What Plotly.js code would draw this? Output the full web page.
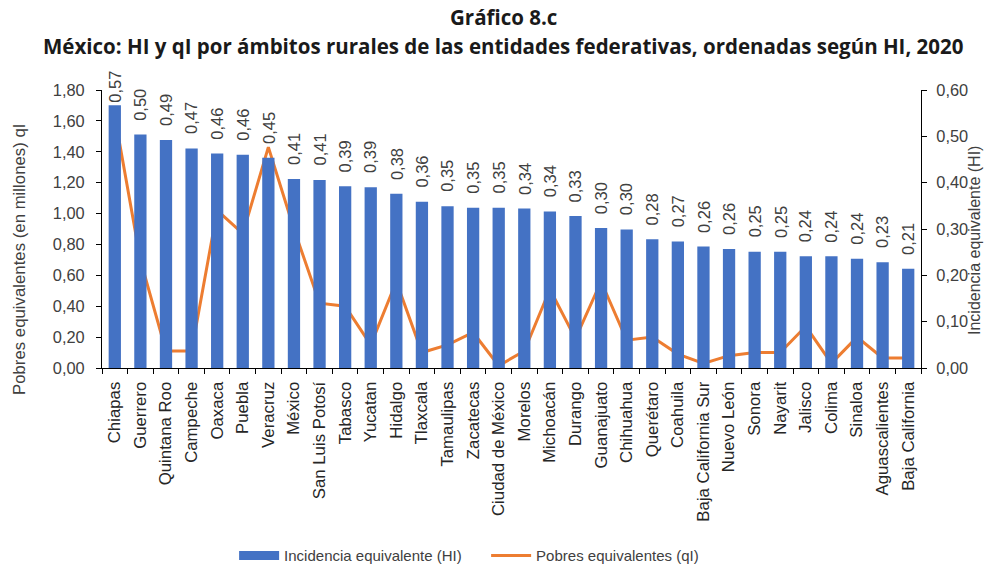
<!DOCTYPE html>
<html><head><meta charset="utf-8">
<script src="https://cdn.plot.ly/plotly-3.0.1.min.js"></script>
<style>html,body{margin:0;padding:0;background:#fff}#chart{width:984px;height:573px}</style>
</head><body><div id="chart"></div>
<script>
const categories = ["Chiapas","Guerrero","Quintana Roo","Campeche","Oaxaca","Puebla","Veracruz","México","San Luis Potosí","Tabasco","Yucatan","Hidalgo","Tlaxcala","Tamaulipas","Zacatecas","Ciudad de México","Morelos","Michoacán","Durango","Guanajuato","Chihuahua","Querétaro","Coahuila","Baja California Sur","Nuevo León","Sonora","Nayarit","Jalisco","Colima","Sinaloa","Aguascalientes","Baja California"];
const hiValues = [0.567,0.504,0.492,0.474,0.463,0.460,0.454,0.408,0.406,0.392,0.390,0.376,0.359,0.349,0.346,0.346,0.344,0.338,0.328,0.302,0.299,0.278,0.273,0.262,0.257,0.251,0.251,0.241,0.241,0.236,0.228,0.214];
const qiValues = [1.63,0.70,0.11,0.11,1.02,0.87,1.43,0.90,0.42,0.40,0.15,0.56,0.10,0.15,0.23,0.015,0.11,0.51,0.19,0.56,0.18,0.20,0.09,0.03,0.08,0.10,0.10,0.27,0.03,0.20,0.065,0.065];
const hiLabels = hiValues.map(v => v.toFixed(2).replace('.', ','));
const titleLines = ["Gráfico 8.c", "México: HI y qI por ámbitos rurales de las entidades federativas, ordenadas según HI, 2020"];
const leftTitle = "Pobres equivalentes (en millones) qI";
const rightTitle = "Incidencia equivalente (HI)";
const hiName = "Incidencia equivalente (HI)";
const qiName = "Pobres equivalentes (qI)";

const M = {l: 102, r: 63, t: 90, b: 205, autoexpand: false};
const W = 984, H = 573;
const plotH = H - M.t - M.b, plotW = W - M.l - M.r;
const y2Max = 0.6;
const blue = '#4472C4', orange = '#ED7D31';

const txt = '#404040';
const bars = {
  type: 'bar', x: categories, y: hiValues, yaxis: 'y2',
  name: hiName, showlegend: false,
  marker: {color: blue}
};
// legend entry drawn as a wide rectangle swatch, like the original
const barLegend = {
  type: 'scatter', mode: 'lines', x: [null], y: [null], yaxis: 'y2',
  name: hiName, line: {color: blue, width: 9}
};
const line = {
  type: 'scatter', mode: 'lines', x: categories, y: qiValues, yaxis: 'y',
  name: qiName,
  line: {color: orange, width: 3}
};
const barLabels = categories.map((c, i) => {
  const topPx = M.t + plotH * (1 - hiValues[i] / y2Max);
  const shift = Math.min(13, topPx - 104);
  return {text: hiLabels[i], x: c, y: hiValues[i], xref: 'x', yref: 'y2',
    xanchor: 'center', yanchor: 'bottom', textangle: -90, showarrow: false,
    yshift: shift, borderpad: 0, font: {size: 16.5, color: txt}};
});
const titleFont = {family: 'Open Sans', size: 20.5, color: '#1a1a1a', weight: 'bold'};
const layout = {
  width: W, height: H,
  margin: M,
  paper_bgcolor: '#fff', plot_bgcolor: '#fff',
  separators: ',.',
  font: {family: 'Liberation Sans, Arial', size: 16, color: txt},
  bargap: 0.52,
  showlegend: true,
  legend: {orientation: 'h', x: 0.469, xanchor: 'center', y: -0.675, yanchor: 'middle',
    font: {size: 15, color: txt}, traceorder: 'normal', itemwidth: 40, entrywidth: 197},
  annotations: [
    {text: titleLines[0], xref: 'paper', yref: 'paper', x: 0.49, y: 1 + (M.t - 17) / plotH, xanchor: 'center', yanchor: 'middle', showarrow: false, font: titleFont},
    {text: titleLines[1], xref: 'paper', yref: 'paper', x: 0.49, y: 1 + (M.t - 46) / plotH, xanchor: 'center', yanchor: 'middle', showarrow: false, font: titleFont},
    {text: leftTitle, xref: 'paper', yref: 'paper', x: (19 - M.l) / plotW, y: (M.t + plotH - 260) / plotH, xanchor: 'center', yanchor: 'middle', textangle: -90, showarrow: false, font: {size: 16.8, color: txt}},
    {text: rightTitle, xref: 'paper', yref: 'paper', x: (974 - M.l) / plotW, y: (M.t + plotH - 241) / plotH, xanchor: 'center', yanchor: 'middle', textangle: -90, showarrow: false, font: {size: 16, color: txt}}
  ].concat(barLabels),
  xaxis: {
    type: 'category', tickangle: -90, tickson: 'boundaries', ticks: 'outside', ticklen: 5,
    tickcolor: '#000', showline: true, linecolor: '#000', linewidth: 1, showgrid: false,
    ticklabelstandoff: 6, tickfont: {size: 16.8, color: '#262626'}, automargin: false
  },
  yaxis: {
    range: [0, 1.8], dtick: 0.2, tickformat: '.2f', ticks: 'outside', ticklen: 5,
    tickcolor: '#000', showline: true, linecolor: '#000', showgrid: false, zeroline: false,
    ticklabelstandoff: 8, tickfont: {size: 16.4, color: txt}, automargin: false
  },
  yaxis2: {
    range: [0, y2Max], dtick: 0.1, tickformat: '.2f', overlaying: 'y', side: 'right',
    ticks: 'outside', ticklen: 5, tickcolor: '#000', showline: true, linecolor: '#000',
    showgrid: false, zeroline: false, ticklabelstandoff: 6, tickfont: {size: 16.4, color: txt},
    automargin: false
  }
};
Plotly.newPlot('chart', [bars, barLegend, line], layout, {displayModeBar: false, staticPlot: true});
</script></body></html>
